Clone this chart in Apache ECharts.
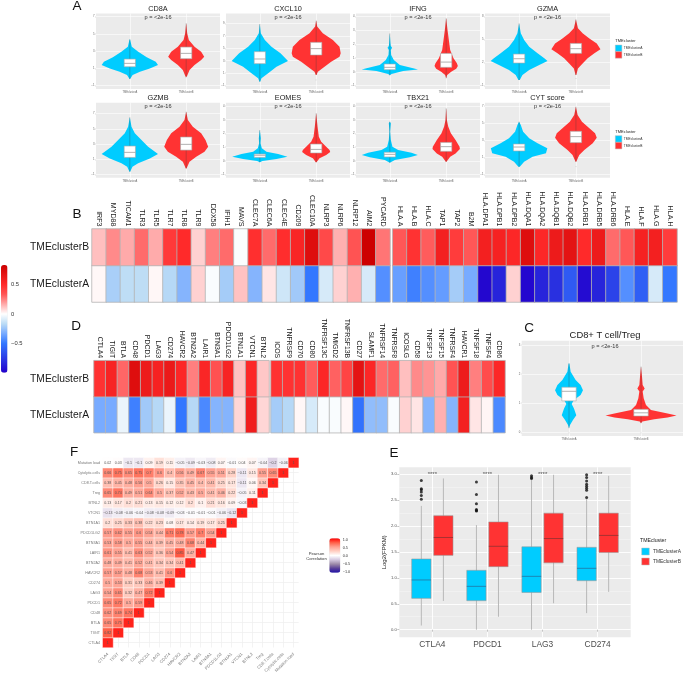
<!DOCTYPE html>
<html><head><meta charset="utf-8">
<style>html,body{margin:0;padding:0;background:#fff}#c{width:685px;height:675px}</style>
<script src="https://cdn.jsdelivr.net/npm/echarts@6/dist/echarts.min.js"></script>
</head><body><div id="c"></div>
<script>
// ---------- DATA ----------
const clusters = ['TMEclusterA','TMEclusterB'];
const pText = 'p = <2e-16';
// violin profiles: [expression value, half width in category units]
const cd8aA=[[4.37,.005],[3.52,.035],[2.94,.15],[2.29,.30],[1.78,.46],[1.40,.50],[1.01,.355],[.62,.18],[.24,.05],[-.23,.005]];
const cd8aB=[[6.23,0],[5.07,.018],[4.29,.047],[3.52,.148],[2.94,.266],[2.36,.32],[1.98,.266],[1.40,.148],[.82,.06],[.04,.01]];
const cxcl10A=[[8.89,0],[7.40,.018],[6.33,.089],[5.26,.207],[4.19,.367],[2.96,.50],[2.05,.296],[.98,.148],[.18,.03],[-.36,.006]];
const cxcl10B=[[9.43,0],[8.47,.018],[7.40,.118],[6.33,.296],[5.26,.414],[4.19,.435],[3.65,.414],[2.85,.266],[2.05,.148],[1.25,.03],[.71,.006]];
const ifngA=[[2.79,0],[2.07,.012],[1.87,.018],[1.75,.041],[1.58,.018],[1.22,.024],[.86,.071],[.50,.178],[.26,.414],[.18,.5],[.06,.237],[-.15,.03],[-.25,0]];
const ifngB=[[3.88,0],[3.03,.024],[2.31,.047],[1.58,.071],[.98,.13],[.62,.19],[.43,.207],[.23,.178],[.01,.089],[-.23,.018],[-.47,0]];
const gzmaA=[[7.13,0],[5.83,.03],[4.96,.089],[4.09,.178],[3.22,.325],[2.57,.444],[2.22,.5],[1.70,.355],[1.04,.178],[.39,.059],[-.26,.012]];
const gzmaB=[[7.65,0],[6.48,.036],[5.83,.118],[5.17,.237],[4.52,.367],[3.74,.432],[3.22,.325],[2.57,.207],[1.91,.118],[1.26,.036],[.39,.006]];
const gzmbA=[[6.52,0],[5.30,.03],[4.42,.089],[3.55,.207],[2.67,.325],[1.71,.5],[1.14,.355],[.49,.148],[.05,.047],[-.61,.006]];
const gzmbB=[[7.26,0],[6.17,.03],[5.30,.118],[4.42,.266],[3.55,.343],[2.67,.39],[2.02,.325],[1.36,.178],[.70,.059],[-.17,.006]];
const eomesA=[[2.25,0],[1.65,.018],[1.28,.012],[.92,.036],[.67,.118],[.50,.325],[.31,.49],[.14,.296],[0,.047],[-.10,0]];
const eomesB=[[3.47,0],[2.50,.024],[1.77,.047],[1.40,.089],[1.04,.178],[.80,.237],[.65,.249],[.43,.178],[.19,.059],[-.10,.006]];
const tbx21A=[[2.86,0],[2.74,.018],[2.13,.006],[1.52,.018],[1.04,.047],[.80,.148],[.60,.385],[.43,.497],[.26,.355],[.07,.089],[-.13,0]];
const tbx21B=[[3.83,0],[2.98,.012],[2.50,.036],[2.01,.083],[1.52,.166],[1.04,.237],[.87,.243],[.55,.166],[.31,.071],[-.05,.006]];
const cytA=[[5.17,0],[4.79,.03],[4.01,.071],[3.23,.178],[2.65,.325],[2.07,.497],[1.49,.473],[1.10,.237],[.51,.089],[-.07,.012]];
const cytB=[[6.92,0],[5.95,.03],[5.17,.107],[4.40,.237],[3.82,.337],[3.31,.367],[2.65,.296],[1.87,.148],[1.29,.059],[.51,.006]];
const ratioA=[[2.37,.005],[2.08,.023],[1.80,.092],[1.63,.161],[1.45,.194],[1.28,.161],[1.11,.069],[.97,.037],[.82,.069],[.59,.101],[.42,.055],[.25,.014],[.14,0]];
const ratioB=[[2.26,0],[1.91,.014],[1.63,.023],[1.51,.051],[1.40,.023],[1.17,.037],[.94,.069],[.77,.138],[.65,.369],[.58,.493],[.51,.369],[.45,.184],[.37,.018],[.31,0]];
// violin inner boxes: [q1, median, q3]
const cd8aBox=[[1.20,1.59,2.09],[2.13,2.75,3.48]];
const cxcl10Box=[[2.53,3.28,4.45],[3.92,4.94,5.95]];
const ifngBox=[[.16,.33,.57],[.33,.71,1.34]];
const gzmaBox=[[1.96,2.52,3.13],[3.22,3.83,4.52]];
const gzmbBox=[[1.27,1.93,2.76],[2.23,2.98,3.94]];
const eomesBox=[[.26,.41,.50],[.58,.84,1.23]];
const tbx21Box=[[.29,.48,.63],[.70,1.04,1.35]];
const cytBox=[[1.76,2.22,2.57],[2.73,3.43,4.05]];
const ratioBox=[[1.08,1.41,1.55],[.56,.67,.79]];
// violin y tick labels
const ticks7=[-1,1,3,5,7], ticks9=[-1,1,3,5,7,9], ticks4=[-1,0,1,2,3,4], ticks8=[-1,2,5,8], ticksRatio=[0,1,2,3];
// heatmap B
const innateGenes=['IRF3','MYD88','TICAM1','TLR3','TLR5','TLR7','TLR8','TLR9','DDX58','IFIH1','MAVS','CLEC7A','CLEC6A','CLEC4E','CD209','CLEC10A','NLRP3','NLRP6','NLRP12','AIM2','PYCARD'];
const innateB=[.125,.23,.167,.29,.165,.44,.5,.09,.25,.29,-.01,.48,.29,.49,.54,.72,.38,.155,.34,.83,.27];
const innateA=[.015,-.21,-.16,-.16,.015,-.18,-.3,.09,-.015,-.22,.12,-.3,.05,-.12,-.23,-.5,-.1,.09,.155,-.1,-.42];
const hlaGenes=['HLA.A','HLA.B','HLA.C','TAP1','TAP2','B2M','HLA.DPA1','HLA.DPB1','HLA.DPB2','HLA.DQA1','HLA.DQA2','HLA.DQB1','HLA.DQB2','HLA.DRB1','HLA.DRB5','HLA.DRB6','HLA.E','HLA.F','HLA.G','HLA.H'];
const hlaB=[.33,.47,.32,.58,.43,.33,.58,.56,.52,.72,.52,.62,.68,.5,.62,.29,.33,.56,.58,.43];
const hlaA=[-.37,-.47,-.42,-.38,-.22,-.33,-.97,-.85,.09,-.97,-.85,-.8,-.62,-.95,-.85,-.72,-.42,-.6,-.1,-.5];
// heatmap D
const inhibGenes=['CTLA4','TIGIT','BTLA','CD48','PDCD1','LAG3','CD274','HAVCR2','BTN2A2','LAIR1','BTN3A1','PDCD1LG2','BTN1A1','VTCN1','BTNL2'];
const inhibB=[.47,.55,.3,.72,.62,.56,.63,.52,.25,.53,.35,.55,.12,.52,.11];
const inhibA=[-.33,-.33,-.05,-.47,-.23,-.18,-.05,-.5,-.18,-.44,-.3,-.3,.08,.6,.08];
const stimGenes=['ICOS','TNFRSF9','CD70','CD80','TNFRSF13C','TMIGD2','TNFRSF13B','CD27','SLAMF1','TNFRSF14','TNFRSF8','ICOSLG','CD58','TNFSF13','TNFSF15','TNFRSF4','HAVCR1','TNFSF18','TNFSF4','CD86'];
const stimB=[.47,.47,.47,.32,.52,.31,.4,.68,.52,.29,.31,.125,.23,.21,.167,.34,.62,.25,.37,.52];
const stimA=[-.22,-.18,.015,-.1,-.015,-.015,.015,-.52,-.27,-.27,-.015,.09,.05,-.3,.155,-.3,.58,.05,.02,-.44];
const heatRows=['TMEclusterA','TMEclusterB'];
const heatLegendTicks=[-.5,0,.5];
// correlation F (row starts at CTLA4 column, ends on the diagonal)
const corrVars=['CTLA4','TIGIT','BTLA','CD48','PDCD1','LAG3','CD274','HAVCR2','BTN2A2','LAIR1','BTN3A1','PDCD1LG2','BTN1A1','VTCN1','BTNL2','Treg','CD8.T.cells','Cytolytic.cells','Mutation load'];
const cCTLA4=[1];
const cTIGIT=[.82,1];
const cBTLA=[.65,.75,1];
const cCD48=[.62,.69,.74,1];
const cPDCD1=[.65,.72,.5,.59,1];
const cLAG3=[.54,.65,.32,.47,.72,1];
const cCD274=[.5,.53,.31,.33,.46,.39,1];
const cHAVCR2=[.57,.57,.48,.68,.53,.41,.6,1];
const cBTN2A2=[.48,.49,.41,.52,.41,.34,.34,.41,1];
const cLAIR1=[.61,.55,.41,.63,.52,.36,.54,.85,.47,1];
const cBTN3A1=[.53,.58,.5,.55,.44,.39,.45,.48,.68,.44,1];
const cPDCD1LG2=[.57,.62,.55,.6,.54,.44,.71,.78,.57,.7,.54,1];
const cBTN1A1=[.2,.25,.33,.38,.22,.23,.08,.17,.14,.19,.17,.25,1];
const cVTCN1=[-.13,-.08,-.06,-.04,-.08,-.08,-.09,-.03,-.01,-.01,-.01,-.06,-.12,1];
const cBTNL2=[.13,.17,.2,.21,.13,.15,.12,.12,.2,.1,.21,.16,.09,-.03,1];
const cTreg=[.65,.74,.49,.51,.64,.5,.37,.52,.43,.5,.41,.46,.22,-.05,.11,1];
const cCD8=[.38,.45,.48,.56,.5,.26,.15,.35,.45,.4,.41,.25,.17,-.11,.06,.34,1];
const cCyt=[.66,.75,.65,.75,.7,.6,.4,.56,.49,.67,.55,.51,.28,-.11,.15,.55,.65,1];
const cMut=[.02,.03,-.1,-.1,.09,.19,.11,-.05,-.09,-.03,-.08,.07,-.01,.04,.07,-.04,-.2,-.06,1];
const corrRows=[cCTLA4,cTIGIT,cBTLA,cCD48,cPDCD1,cLAG3,cCD274,cHAVCR2,cBTN2A2,cLAIR1,cBTN3A1,cPDCD1LG2,cBTN1A1,cVTCN1,cBTNL2,cTreg,cCD8,cCyt,cMut];
const corrLegendTicks=[-1,-.5,0,.5,1];
// boxplot E: [low whisker, q1, median, q3, high whisker]
const checkpoints=['CTLA4','PDCD1','LAG3','CD274'];
const boxA=[[.08,.605,.96,1.365,2.39],[0,.56,.837,1.146,2.02],[0,.72,1.03,1.6,2.9],[.32,.946,1.185,1.59,2.53]];
const boxB=[[.555,1.435,1.78,2.2,2.92],[.25,1.217,1.61,2.08,2.99],[.51,1.29,1.76,2.25,2.99],[.73,1.49,1.82,2.25,2.97]];
const outliersA=[[2.88,2.72,2.70,2.66,2.59,2.52],[2.85,2.61,2.43,2.32,2.30,2.29],[2.97,2.94,2.92],[2.99,2.94,2.87,2.81,2.77,2.73,2.69,2.55]];
const log2Ticks=[0,.5,1,1.5,2,2.5,3];
const log2Minor=[.25,.75,1.25,1.75,2.25,2.75];
const signifLabel='****';
const signifLevel=[3,3,3,3];

// ---------- STYLE ----------
const FONT='"Liberation Sans",Arial,sans-serif';
const BLUE='#00ccff', RED='#ff3333', PANEL='#ebebeb';
const grids=[],xAxes=[],yAxes=[],series=[],graphics=[];
function text(t,x,y,size,opt){opt=opt||{};graphics.push({type:'text',x:x,y:y,rotation:opt.rotation||0,silent:true,z:20,
 style:{text:t,fontSize:size,fontFamily:FONT,fill:opt.fill||'#1a1a1a',align:opt.align||'center',verticalAlign:'middle'}});}
function rect(x,y,w,h,fill){graphics.push({type:'rect',silent:true,z:20,shape:{x,y,width:w,height:h},style:{fill:fill,stroke:'#bdbdbd',lineWidth:.5}});}
function addGrid(l,t,r,b,bg){grids.push({left:l,top:t,width:r-l,height:b-t,show:!!bg,backgroundColor:bg||'transparent',borderWidth:0});return grids.length-1;}

function violinRender(profile,cat,color){return function(params,api){
  const pts=[];
  profile.forEach(p=>pts.push(api.coord([cat+p[1],p[0]])));
  profile.slice().reverse().forEach(p=>pts.push(api.coord([cat-p[1],p[0]])));
  return {type:'polygon',shape:{points:pts},style:{fill:color}};
};}
function boxRender(o){return function(params,api){
  const x=api.value(0),lo=api.value(1),q1=api.value(2),m=api.value(3),q3=api.value(4),hi=api.value(5);
  const a=api.coord([x-o.half,q3]),b=api.coord([x+o.half,q1]),ml=api.coord([x-o.half,m]),mr=api.coord([x+o.half,m]);
  const t=api.coord([x,hi]),bt=api.coord([x,lo]);
  return {type:'group',children:[
   {type:'line',shape:{x1:t[0],y1:t[1],x2:bt[0],y2:bt[1]},style:{stroke:o.whisker,lineWidth:o.whiskerW}},
   {type:'rect',shape:{x:a[0],y:a[1],width:b[0]-a[0],height:b[1]-a[1]},style:{fill:o.fill,stroke:o.border,lineWidth:o.borderW}},
   {type:'line',shape:{x1:ml[0],y1:ml[1],x2:mr[0],y2:mr[1]},style:{stroke:o.median,lineWidth:o.medianW}}
  ]};
};}
function violinPanel(title,box,ymin,ymax,ticks,profA,profB,bx,xmin,xmax,titleSize,titleY,pY,labelSize,cx){
  const g=addGrid(box[0],box[1],box[2],box[3],PANEL);
  xAxes.push({gridIndex:g,type:'value',min:xmin,max:xmax,
    axisLine:{show:false},axisTick:{show:true,length:1,lineStyle:{color:'#aaa',width:.4},customValues:[1,2]},
    splitLine:{show:true,lineStyle:{color:'#fff',width:.6}},
    axisLabel:{customValues:[1,2],formatter:v=>clusters[v-1],fontSize:2.6,color:'#666',margin:2,fontFamily:FONT}});
  const xi=xAxes.length-1;
  yAxes.push({gridIndex:g,type:'value',min:ymin,max:ymax,
    axisLine:{show:false},axisTick:{show:true,length:1,lineStyle:{color:'#aaa',width:.4},customValues:ticks},
    splitLine:{show:true,lineStyle:{color:'#fff',width:.6}},
    axisLabel:{customValues:ticks,fontSize:2.8,color:'#666',margin:1.5,fontFamily:FONT,formatter:v=>String(v).replace('-','−')}});
  const yi=yAxes.length-1;
  [[profA,1,BLUE,0],[profB,2,RED,1]].forEach(d=>{
    series.push({type:'custom',name:clusters[d[3]],xAxisIndex:xi,yAxisIndex:yi,silent:true,clip:false,z:3,
      renderItem:violinRender(d[0],d[1],d[2]),data:[[d[1],d[0][0][0]]]});
    const b=bx[d[3]],p=d[0];
    series.push({type:'custom',name:clusters[d[3]],xAxisIndex:xi,yAxisIndex:yi,silent:true,clip:false,z:4,
      renderItem:boxRender({half:.1,whisker:'rgba(60,60,60,.65)',whiskerW:.45,fill:'#fff',border:'#aaa',borderW:.6,median:'#8f8f8f',medianW:.7}),
      data:[[d[1],p[p.length-1][0],b[0],b[1],b[2],p[0][0]]]});
  });
  const tx=cx||(box[0]+box[2])/2;
  text(title,tx,titleY,titleSize);
  text(pText,tx,pY,labelSize,{fill:'#333'});
}
// ---------- A ----------
violinPanel('CD8A',[96,13.5,220,89],-1.38,7.37,ticks7,cd8aA,cd8aB,cd8aBox,.4,2.6,7.3,9,17.3,5.6);
violinPanel('CXCL10',[226,13.5,350,89],-1.53,10.57,ticks9,cxcl10A,cxcl10B,cxcl10Box,.4,2.6,7.3,9,17.3,5.6);
violinPanel('IFNG',[356,13.5,480,89],-1.24,4.23,ticks4,ifngA,ifngB,ifngBox,.4,2.6,7.3,9,17.3,5.6);
violinPanel('GZMA',[485,13.5,610,89],-1.43,8.42,ticks8,gzmaA,gzmaB,gzmaBox,.4,2.6,7.3,9,17.3,5.6);
violinPanel('GZMB',[96,102.7,220,177.7],-1.39,8.44,ticks7,gzmbA,gzmbB,gzmbBox,.4,2.6,7.3,97.7,106,5.6);
violinPanel('EOMES',[226,102.7,350,177.7],-1.22,4.24,ticks4,eomesA,eomesB,eomesBox,.4,2.6,7.3,97.7,106,5.6);
violinPanel('TBX21',[356,102.7,480,177.7],-1.22,4.24,ticks4,tbx21A,tbx21B,tbx21Box,.4,2.6,7.3,97.7,106,5.6);
violinPanel('CYT score',[485,102.7,610,177.7],-1.35,7.38,ticks7,cytA,cytB,cytBox,.4,2.6,7.3,97.7,106,5.6);
// ---------- C ----------
violinPanel('CD8+ T cell/Treg',[521.7,340.7,683,436],-.127,3.15,ticksRatio,ratioA,ratioB,ratioBox,.343,2.583,9.4,335.5,346,5.6,605);

// small legends
function legendA(y){
  text('TMEcluster',615.3,y,4,{align:'left'});
  rect(615.3,y+4,6.6,6.6,BLUE);rect(615.3,y+10.6,6.6,6.6,RED);
  text(clusters[0],623.7,y+7.3,3.3,{align:'left',fill:'#333'});
  text(clusters[1],623.7,y+13.9,3.3,{align:'left',fill:'#333'});
}
legendA(41);legendA(131.7);

// ---------- Heatmaps B, D ----------
const heatSeries=[];
function heat(box,genes,rowB,rowA,showRows,fs,rowMargin){
  const g=addGrid(box[0],box[1],box[2],box[3]);
  xAxes.push({gridIndex:g,type:'category',position:'top',data:genes,axisLine:{show:false},axisTick:{show:false},
    splitLine:{show:false},axisLabel:{interval:0,rotate:90,fontSize:fs,color:'#222',margin:2.5,fontFamily:FONT}});
  yAxes.push({gridIndex:g,type:'category',data:heatRows,axisLine:{show:false},axisTick:{show:false},splitLine:{show:false},
    axisLabel:{show:showRows,fontSize:10.3,color:'#1a1a1a',margin:rowMargin,fontFamily:FONT}});
  const data=[];
  genes.forEach((n,i)=>{data.push([i,0,rowA[i]]);data.push([i,1,rowB[i]]);});
  heatSeries.push(series.length);
  series.push({type:'heatmap',xAxisIndex:xAxes.length-1,yAxisIndex:yAxes.length-1,data:data,silent:true,
    itemStyle:{borderColor:'#b4b4b4',borderWidth:.8}});
}
heat([92,229,390,302],innateGenes,innateB,innateA,true,7.1,3);
heat([392.7,229,677,302],hlaGenes,hlaB,hlaA,false,7.1,3);
heat([94,360.7,269,432.7],inhibGenes,inhibB,inhibA,true,6.9,5);
heat([271,360.7,505,432.7],stimGenes,stimB,stimA,false,6.9,3);
// heat legend axis
const hg=addGrid(1,265,7.5,372.7);
xAxes.push({gridIndex:hg,type:'value',show:false});
yAxes.push({gridIndex:hg,type:'value',position:'right',min:-1,max:.8333,axisLine:{show:false},axisTick:{show:false,customValues:heatLegendTicks},splitLine:{show:false},
  axisLabel:{customValues:heatLegendTicks,fontSize:5.8,color:'#333',margin:3.5,fontFamily:FONT,formatter:v=>String(v).replace('-','−')}});

// ---------- Correlation F ----------
const fg=addGrid(102.7,457.7,298.7,653.7);
xAxes.push({gridIndex:fg,type:'category',data:corrVars,axisLine:{show:false},axisTick:{show:false},
  splitLine:{show:true,alignWithLabel:true,interval:0,lineStyle:{color:'#eeeeee',width:.7}},
  axisLabel:{interval:0,rotate:45,fontSize:4.2,color:'#777',margin:6,fontFamily:FONT}});
yAxes.push({gridIndex:fg,type:'category',data:corrVars,axisLine:{show:false},axisTick:{show:false},
  splitLine:{show:true,alignWithLabel:true,interval:0,lineStyle:{color:'#eeeeee',width:.7}},
  axisLabel:{interval:0,fontSize:3.7,color:'#777',margin:2.7,fontFamily:FONT}});
const corrData=[];
corrRows.forEach((row,j)=>row.forEach((v,i)=>corrData.push([i,j,v])));
const corrSeries=series.length;
series.push({type:'heatmap',xAxisIndex:xAxes.length-1,yAxisIndex:yAxes.length-1,data:corrData,silent:true,
  itemStyle:{borderColor:'#fff',borderWidth:.5},
  label:{show:true,fontSize:3.6,color:'#555',fontFamily:FONT,formatter:p=>String(p.value[2]).replace('-','−')}});
const cg=addGrid(329.3,538.3,340.3,572.7);
xAxes.push({gridIndex:cg,type:'value',show:false});
yAxes.push({gridIndex:cg,type:'value',position:'right',min:-1.07,max:1.1,axisLine:{show:false},axisTick:{show:false,customValues:corrLegendTicks},splitLine:{show:false},
  axisLabel:{customValues:corrLegendTicks,fontSize:3.8,color:'#333',margin:2.4,fontFamily:FONT,formatter:v=>v.toFixed(1).replace('-','−')}});
text('Pearson',316.5,554,4.2,{fill:'#333'});
text('Correlation',316.5,558.7,4.2,{fill:'#333'});

// ---------- Boxplot E ----------
const eg=addGrid(399.3,467.3,630.7,637.3,PANEL);
xAxes.push({gridIndex:eg,type:'value',min:.4,max:4.6,axisLine:{show:false},
  axisTick:{show:true,length:2,lineStyle:{color:'#888',width:.5},customValues:[1,2,3,4]},
  splitLine:{show:true,lineStyle:{color:'#fff',width:.9}},
  axisLabel:{customValues:[1,2,3,4],formatter:v=>checkpoints[v-1],fontSize:8.4,color:'#4d4d4d',margin:3.5,fontFamily:FONT}});
const ex=xAxes.length-1;
yAxes.push({gridIndex:eg,type:'value',min:-.147,max:3.135,name:'Log2(FPKM)',nameLocation:'middle',nameGap:10.5,nameRotate:90,
  nameTextStyle:{fontSize:6,color:'#1a1a1a',fontFamily:FONT},axisLine:{show:false},
  axisTick:{show:true,length:2,lineStyle:{color:'#888',width:.5},customValues:log2Ticks},
  splitLine:{show:true,lineStyle:{color:'#fff',width:.9}},
  axisLabel:{customValues:log2Ticks,formatter:v=>v.toFixed(1),fontSize:4.2,color:'#555',margin:2.5,fontFamily:FONT}});
const ey=yAxes.length-1;
yAxes.push({gridIndex:eg,type:'value',min:-.147,max:3.135,position:'left',axisLine:{show:false},axisLabel:{show:false},
  axisTick:{show:false,customValues:log2Minor},splitLine:{show:true,lineStyle:{color:'#f6f6f6',width:.5}}});
const DODGE=.2;
const boxStyle=(fill,med)=>({half:.175,whisker:'#b8b8b8',whiskerW:1,fill:fill,border:'rgba(150,150,150,.7)',borderW:.8,median:med,medianW:1});
series.push({type:'custom',name:clusters[0],xAxisIndex:ex,yAxisIndex:ey,silent:true,z:3,renderItem:boxRender(boxStyle(BLUE,'#1c86b5')),
  data:boxA.map((b,i)=>[i+1-DODGE].concat(b))});
series.push({type:'custom',name:clusters[1],xAxisIndex:ex,yAxisIndex:ey,silent:true,z:3,renderItem:boxRender(boxStyle(RED,'#a83232')),
  data:boxB.map((b,i)=>[i+1+DODGE].concat(b))});
const outPts=[];outliersA.forEach((arr,i)=>arr.forEach(v=>outPts.push([i+1-DODGE,v])));
series.push({type:'scatter',xAxisIndex:ex,yAxisIndex:ey,silent:true,symbolSize:3,itemStyle:{color:'#111'},data:outPts,z:4});
series.push({type:'custom',xAxisIndex:ex,yAxisIndex:ey,silent:true,z:5,clip:false,
  data:signifLevel.map((v,i)=>[i+1,v]),
  renderItem:function(p,api){const c=api.coord([api.value(0),api.value(1)]);
    return {type:'text',x:c[0],y:c[1],style:{text:signifLabel,fontSize:6,fontFamily:FONT,fill:'#555',align:'center',verticalAlign:'middle'}};}});
text('TMEcluster',640,540.7,5.2,{align:'left'});
rect(641.7,548,7.6,7,BLUE);rect(641.7,558,7.6,7,RED);
text(clusters[0],653,551.7,4.9,{align:'left',fill:'#333'});
text(clusters[1],653,561.7,4.9,{align:'left',fill:'#333'});

// panel letters
[['A',77,6],['B',77,214],['D',76,326],['C',529,328],['E',394,453],['F',74,452]].forEach(l=>text(l[0],l[1],l[2],13.5,{fill:'#111'}));

const chart=echarts.init(document.getElementById('c'),null,{renderer:'canvas'});
chart.setOption({animation:false,backgroundColor:'#fff',textStyle:{fontFamily:FONT},
 grid:grids,xAxis:xAxes,yAxis:yAxes,series:series,
 visualMap:[
  {type:'continuous',seriesIndex:heatSeries,min:-1,max:.8333,calculable:false,hoverLink:false,showLabel:false,text:['',''],left:1,top:265,itemWidth:6.5,itemHeight:107.7,padding:0,
   inRange:{color:['#2200cc','#2828dd','#2d4fee','#3377ff','#77aaff','#bbdcf5','#ffffff','#ffaaaa','#ff5555','#ff2a2a','#e61515','#cc0000']}},
  {type:'continuous',seriesIndex:corrSeries,min:-1.07,max:1.1,calculable:false,hoverLink:false,text:['',''],left:329.3,top:538.3,itemWidth:11,itemHeight:34.4,padding:0,
   inRange:{color:['#2010a8','#5a4098','#9c8aa8','#d5c8e0','#ffffff','#ffd0c4','#ffa090','#ff6048','#ff0000']}}
 ],
 graphic:{elements:graphics}});
</script></body></html>
